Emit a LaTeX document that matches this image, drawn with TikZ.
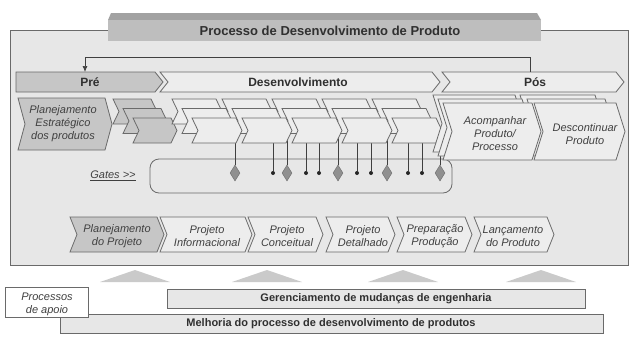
\documentclass[tikz,border=0pt]{standalone}
\usepackage{fontspec}
\setmainfont{Liberation Sans}
\usetikzlibrary{shapes.geometric,arrows.meta}

\definecolor{ink}{HTML}{303030}
\definecolor{edgegray}{HTML}{6A6A6A}
\definecolor{panelgray}{HTML}{E7E7E7}
\definecolor{chevdarkfill}{HTML}{C6C6C6}
\definecolor{chevlightfill}{HTML}{EDEDED}
\definecolor{tabtop}{HTML}{A2A2A2}
\definecolor{tabfront}{HTML}{BEBEBE}
\definecolor{trifill}{HTML}{CACACA}
\definecolor{gatefill}{HTML}{909090}

% chevron outline: x, y, top width, height, tip depth
\newcommand{\chev}[5]{(#1,#2) -- ++(#3,0) -- ++(#5,#4/2) -- ++(-#5,#4/2) -- ++(-#3,0) -- ++(#5,-#4/2) -- cycle}

\begin{document}
\begin{tikzpicture}[x=1pt,y=-1pt,
    every node/.style={text=ink,inner sep=0pt},
    line/.style={draw=edgegray,line width=0.8pt},
    panelbox/.style={line,fill=panelgray},
    chevdark/.style={line,fill=chevdarkfill},
    chevlight/.style={line,fill=chevlightfill},
    gatewire/.style={draw=black!75,line width=0.7pt},
    gate/.style={diamond,draw=edgegray,fill=gatefill,minimum width=10pt,minimum height=16pt},
    milestone/.style={circle,fill=black!85,minimum size=4pt},
    uptri/.style={fill=trifill},
    phaselabel/.style={font=\fontsize{12}{14}\selectfont\bfseries},
    barlabel/.style={font=\fontsize{11}{13}\selectfont\bfseries},
    steplabel/.style={font=\fontsize{11}{13}\selectfont\itshape,align=center,text=black!75}]
  \useasboundingbox (0,0) rectangle (640,343);

  % main panel with title tab
  \draw[panelbox] (10,30) rectangle (628,265);
  \fill[tabtop] (108,20) -- (111,13) -- (537,13) -- (541,20) -- cycle;
  \fill[tabfront] (108,20) rectangle (541,41);
  \node[font=\fontsize{13}{15}\selectfont\bfseries] (title) at (330,30.5) {Processo de Desenvolvimento de Produto};

  % phases
  \draw[chevdark] (16,72) -- (155,72) -- (163,82) -- (155,92) -- (16,92) -- cycle;
  \draw[chevlight] \chev{160}{72}{272}{20}{8};
  \draw[chevlight] \chev{442}{72}{174}{20}{8};
  \node[phaselabel] (pre) at (90,82) {Pré};
  \node[phaselabel] (desenv) at (298,82) {Desenvolvimento};
  \node[phaselabel] (pos) at (535,82) {Pós};

  % loop back to Pre
  \coordinate (loopstart) at (530,72);
  \coordinate (loopend) at (85,72);
  \draw[gatewire,-{Latex[length=6pt,width=5pt]}] (loopstart) -- ++(0,-15) -| (loopend);

  % gates
  \draw[panelbox,rounded corners=9pt] (150,159) rectangle (452,193);
  \node[steplabel] (gates) at (113,176) {\underline{Gates >{}>}};
  \foreach \gx [count=\k] in {235,287,338,387,440} {
    \coordinate (gtop\k) at (\gx,130);
    \node[gate] (gate\k) at (\gx,173) {};
    \draw[gatewire] (gtop\k) -- (gate\k.north);
  }
  \foreach \dx [count=\k] in {273,306,319,357,371,408,422} {
    \coordinate (dtop\k) at (\dx,130);
    \node[milestone] (dot\k) at (\dx,173) {};
    \draw[gatewire] (dtop\k) -- (dot\k);
  }

  % pre stack
  \draw[chevdark] \chev{18}{98}{87}{52}{7};
  \node[steplabel] (planest) at (63,124) {Planejamento\\Estratégico\\dos produtos};
  \foreach \i in {0,1,2}
    \draw[chevdark] \chev{113+10*\i}{99+9.5*\i}{38}{25}{6};

  % development stacks
  \foreach \sh/\sy in {20/99,10/108.5,0/118}
    \foreach \c in {0,...,4}
      \draw[chevlight] \chev{192+50*\c-\sh}{\sy}{44}{25}{6};

  % post stacks
  \draw[chevlight] \chev{433}{95}{82}{57}{9};
  \draw[chevlight] \chev{520}{95}{75}{57}{9};
  \draw[chevlight] \chev{438}{99}{84}{57}{9};
  \draw[chevlight] \chev{527}{99}{78}{57}{9};
  \draw[chevlight] \chev{443}{103}{89}{57}{9};
  \draw[chevlight] \chev{534}{103}{82}{57}{9};
  \node[steplabel] (acomp) at (495,133.5) {Acompanhar\\Produto/\\Processo};
  \node[steplabel] (descont) at (585,134) {Descontinuar\\Produto};

  % development steps
  \draw[chevdark] \chev{70}{217}{87}{35}{7};
  \foreach \sx/\sw in {160/85,248/68,326/62,397/68,474/73}
    \draw[chevlight] \chev{\sx}{217}{\sw}{35}{7};
  \node[steplabel] (planproj) at (117,236) {Planejamento\\do Projeto};
  \node[steplabel] (pinfo) at (207,236) {Projeto\\Informacional};
  \node[steplabel] (pconc) at (287,236) {Projeto\\Conceitual};
  \node[steplabel] (pdet) at (363,236) {Projeto\\Detalhado};
  \node[steplabel] (prep) at (435,236) {Preparação\\Produção};
  \node[steplabel] (lanc) at (513,236) {Lançamento\\do Produto};

  % support arrows
  \foreach \tx in {135,267,403,541}
    \fill[uptri] (\tx-35,282) -- (\tx,270) -- (\tx+35,282) -- cycle;

  % support processes
  \draw[panelbox] (60,314) rectangle (603,333);
  \node[barlabel] (melhoria) at (331,324) {Melhoria do processo de desenvolvimento de produtos};
  \draw[panelbox] (167,289) rectangle (585,308);
  \node[barlabel] (gerenc) at (376,299) {Gerenciamento de mudanças de engenharia};
  \draw[line,fill=white] (5,287) rectangle (88,317);
  \node[steplabel] (apoio) at (47,304) {Processos\\de apoio};
\end{tikzpicture}
\end{document}
